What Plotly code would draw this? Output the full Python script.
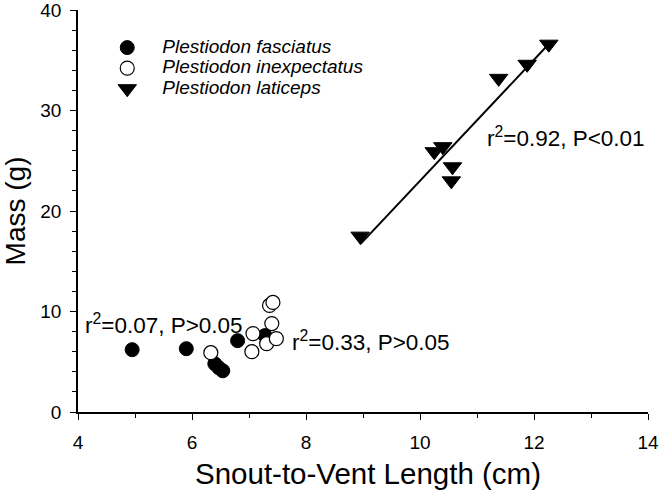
import numpy as np
import plotly.graph_objects as go

# Snout-to-vent length (cm) and mass (g)
fasc_svl = [4.95, 5.9, 6.4, 6.47, 6.54, 6.8, 7.28]
fasc_mass = [6.2, 6.3, 4.8, 4.4, 4.1, 7.1, 7.6]

inex_svl = [6.33, 7.07, 7.05, 7.31, 7.4, 7.48, 7.36, 7.42]
inex_mass = [5.9, 7.8, 6.0, 6.8, 8.8, 7.3, 10.6, 10.9]

lati_svl = [8.95, 10.25, 10.4, 10.57, 10.55, 11.38, 11.88, 12.26]
lati_mass = [17.5, 25.9, 26.4, 24.4, 23.0, 33.2, 34.6, 36.6]

species = ["Plestiodon fasciatus", "Plestiodon inexpectatus", "Plestiodon laticeps"]

x_ticks = [4, 6, 8, 10, 12, 14]
y_ticks = [0, 10, 20, 30, 40]

FONT = "Liberation Sans, Arial, sans-serif"


def leg_name(s):
    # big text but tight row spacing (legend row height follows legend font size)
    return f"<span style='font-size:19px'>{s}</span>"


fig = go.Figure()

fig.add_trace(go.Scatter(
    x=fasc_svl, y=fasc_mass, mode="markers", name=leg_name(species[0]),
    marker=dict(symbol="circle", size=14, color="black",
                line=dict(color="black", width=1))
))
fig.add_trace(go.Scatter(
    x=inex_svl, y=inex_mass, mode="markers", name=leg_name(species[1]),
    marker=dict(symbol="circle", size=14, color="white",
                line=dict(color="black", width=1.2))
))
fig.add_trace(go.Scatter(
    x=lati_svl, y=lati_mass, mode="markers", name=leg_name(species[2]),
    marker=dict(symbol="triangle-down", size=16, color="black",
                line=dict(color="black", width=1))
))

# regression line for laticeps
slope, icept = np.polyfit(lati_svl, lati_mass, 1)
fit_x = np.array([min(lati_svl), max(lati_svl)])
fig.add_trace(go.Scatter(
    x=fit_x, y=slope * fit_x + icept, mode="lines", showlegend=False,
    line=dict(color="black", width=2), hoverinfo="skip"
))

annots = [
    (12.56, 27.4, "r<sup>2</sup>=0.92, P&lt;0.01"),
    (5.5, 8.75, "r<sup>2</sup>=0.07, P&gt;0.05"),
    (9.14, 7.05, "r<sup>2</sup>=0.33, P&gt;0.05"),
]
for ax_x, ax_y, txt in annots:
    fig.add_annotation(x=ax_x, y=ax_y, text=txt, showarrow=False,
                       font=dict(family=FONT, size=22.5, color="black"))

# x-axis title as a paper annotation: the axis title gets squeezed into the margin
fig.add_annotation(x=0.509, y=-0.152, xref="paper", yref="paper",
                   text="Snout-to-Vent Length (cm)", showarrow=False,
                   yanchor="middle",
                   font=dict(family=FONT, size=29.5, color="black"))

axis_common = dict(
    showgrid=False, zeroline=False, showline=True, linecolor="black",
    linewidth=1.5, ticks="outside", ticklen=6, tickwidth=1.2,
    tickcolor="black",
    minor=dict(ticks="outside", ticklen=4, tickwidth=1, tickcolor="black"),
    automargin=False, ticklabeloverflow="allow",
)

fig.update_xaxes(range=[4, 14], tickvals=x_ticks,
                 minor_dtick=1, ticklabelstandoff=6,
                 tickfont=dict(family=FONT, size=19, color="black"),
                 **axis_common)
fig.update_yaxes(range=[0, 40], tickvals=y_ticks,
                 minor_dtick=2, ticklabelstandoff=5,
                 tickfont=dict(family=FONT, size=19, color="black"),
                 title=dict(text="Mass (g)",
                            font=dict(family=FONT, size=28, color="black"),
                            standoff=14),
                 **axis_common)

fig.update_layout(
    width=670, height=493,
    margin=dict(l=78, r=22, t=10, b=81),
    plot_bgcolor="white", paper_bgcolor="white",
    showlegend=True,
    legend=dict(x=0.025, y=0.9445, xanchor="left", yanchor="top",
                bgcolor="rgba(0,0,0,0)", itemwidth=60, tracegroupgap=0,
                font=dict(family=FONT, size=13.5, color="black", style="italic")),
)

# drop the browser's default 8px body margin so the chart sits at the page corner
fig.write_html("out.html", config={"displayModeBar": False},
               post_script="document.body.style.margin='0';")
